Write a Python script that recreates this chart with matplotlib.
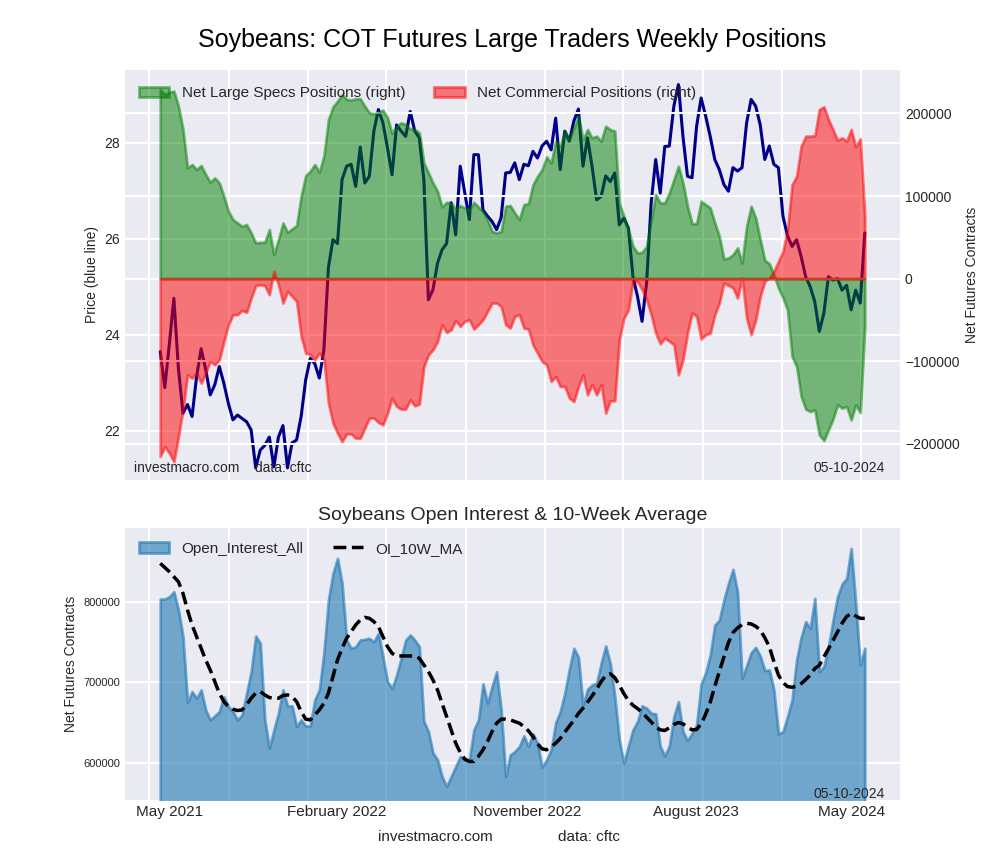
import numpy as np
import pandas as pd
import matplotlib
matplotlib.use('Agg')
import matplotlib.pyplot as plt
import matplotlib.dates as mdates
from matplotlib.ticker import FixedLocator, NullFormatter

plt.style.use('seaborn-v0_8-darkgrid')
plt.rcParams['font.family'] = ['Liberation Sans', 'DejaVu Sans']
plt.rcParams['grid.linewidth'] = 1.5

# weekly COT report dates (Tuesdays)
dates = pd.date_range('2021-05-18', periods=156, freq='7D')

price = [23.65, 22.90, 23.80, 24.76, 23.30, 22.37, 22.55, 22.30, 23.13, 23.71,
         23.28, 22.75, 22.96, 23.34, 22.99, 22.57, 22.23, 22.33, 22.26, 22.19,
         22.02, 21.23, 21.60, 21.70, 21.87, 21.25, 21.87, 22.11, 21.23, 21.75,
         21.81, 22.30, 23.06, 23.51, 23.40, 23.10, 23.68, 25.40, 25.98, 25.90,
         27.23, 27.51, 27.55, 27.09, 27.91, 27.16, 27.30, 28.24, 28.69, 28.41,
         27.89, 27.33, 28.37, 28.24, 28.13, 28.65, 28.24, 28.10, 27.23, 24.73,
         24.94, 25.49, 25.77, 25.90, 26.75, 26.08, 27.51, 26.95, 26.40, 27.75,
         27.75, 26.60, 26.47, 26.36, 26.19, 26.44, 27.37, 27.38, 27.58, 27.23,
         27.55, 27.52, 27.82, 27.68, 27.93, 28.03, 27.85, 28.51, 27.44, 28.24,
         28.03, 28.45, 28.70, 27.51, 28.10, 27.51, 26.81, 26.88, 27.31, 27.19,
         27.37, 26.29, 26.43, 26.22, 25.21, 24.80, 24.28, 25.08, 26.74, 27.65,
         26.95, 27.92, 27.93, 28.76, 29.21, 28.13, 27.30, 27.27, 28.34, 28.93,
         28.55, 28.13, 27.65, 27.44, 27.13, 26.99, 27.48, 27.41, 27.48, 28.41,
         28.90, 28.76, 28.37, 27.65, 27.93, 27.55, 27.48, 26.47, 26.06, 25.84,
         25.98, 25.63, 25.21, 25.00, 24.69, 24.07, 24.45, 25.21, 25.14, 25.17,
         24.93, 25.03, 24.52, 24.93, 24.66, 26.12]

net_specs = [229100, 223000, 225800, 227100, 208900, 180600, 134100, 138200, 132100, 137000,
             126100, 116800, 122000, 115900, 99800, 81600, 71500, 67500, 63400, 65500,
             55400, 43200, 44000, 44000, 59400, 29100, 47300, 67500, 56200, 60200,
             64200, 99800, 124800, 130100, 138200, 128900, 148300, 192700, 208100, 214900,
             223000, 217000, 216200, 217800, 217800, 208900, 200800, 199600, 201600, 204000,
             194700, 175800, 184600, 188700, 186700, 181400, 180600, 176600, 140200, 128100,
             115900, 105900, 86900, 92500, 91700, 84400, 88500, 85600, 83600, 92500,
             86900, 81600, 71500, 57400, 55400, 57400, 87700, 88500, 79600, 71500,
             89700, 90900, 113900, 124000, 132100, 147500, 140200, 166400, 160400, 178600,
             168500, 182600, 196800, 168500, 180600, 170500, 172500, 166400, 184600, 180600,
             178600, 91700, 75500, 59400, 39200, 31100, 31900, 39200, 71500, 101800,
             91700, 91700, 103800, 120000, 136200, 115900, 87700, 66700, 66700, 93700,
             89700, 85600, 67500, 51300, 23800, 25000, 29100, 37200, 19000, 63400,
             87700, 73500, 47300, 22200, 18200, 4800, -11300, -23400, -37600, -94100,
             -106300, -142600, -157900, -160800, -158800, -189100, -196000, -183000, -170100, -152700,
             -156800, -154700, -170900, -152700, -162000, -57800]

net_comm = [-215300, -203200, -211300, -221400, -191100, -158800, -116400, -120400, -114300, -126400,
            -114300, -100200, -104200, -98200, -76000, -55800, -43600, -43600, -38400, -40800,
            -23400, -8500, -7300, -8500, -19400, 8900, -7300, -29500, -15400, -21400,
            -27500, -69900, -90100, -92100, -98200, -90100, -97300, -150700, -174900, -187000,
            -197200, -187900, -187900, -193100, -193100, -181000, -168800, -168800, -174100, -177000,
            -162800, -144600, -154700, -157900, -157900, -146700, -153900, -151900, -106300, -92100,
            -86100, -76000, -55800, -65100, -61800, -50500, -57800, -51700, -49700, -61000,
            -55800, -49700, -39600, -29500, -29500, -33500, -55800, -59800, -45600, -43600,
            -59800, -61000, -80000, -90100, -100200, -104200, -124400, -118400, -130500, -130500,
            -144600, -148700, -130500, -116400, -140600, -128500, -140600, -128500, -162800, -147900,
            -147900, -73900, -47700, -37600, -3200, -3700, -13300, -25500, -43600, -65900,
            -78800, -71900, -75700, -80000, -116400, -98200, -65900, -41600, -45600, -73100,
            -67900, -65900, -43600, -29500, -5300, -8100, -11300, -23400, 800, -47700,
            -67900, -49700, -21400, -3200, 800, 8900, 21000, 33100, 59400, 113900,
            124000, 160400, 172500, 172500, 173100, 204800, 208100, 192700, 180600, 167700,
            170500, 166400, 180600, 159600, 169300, 75500]

open_interest = [803700, 803700, 806600, 812800, 790100, 756900, 674900, 688600, 680400, 690700,
                 665900, 653400, 658400, 663800, 682400, 670000, 663800, 653400, 659700, 686600,
                 713400, 757800, 748700, 653400, 618300, 641000, 661800, 690700, 670800, 670800,
                 645200, 653400, 646000, 646000, 678300, 690700, 736300, 802500, 835600, 854300,
                 823200, 752800, 742500, 744500, 752800, 753600, 754900, 750700, 761100, 732100,
                 701000, 692700, 709300, 730100, 752800, 759000, 752800, 744500, 651300, 638900,
                 612100, 603800, 583000, 570600, 583000, 595500, 607900, 603800, 603800, 641000,
                 653400, 698200, 674200, 694800, 713400, 665900, 583000, 610000, 614100, 620300,
                 633600, 620300, 636100, 624500, 594700, 603800, 616200, 650100, 663800, 686600,
                 716400, 742500, 731300, 672100, 691500, 696900, 699000, 723800, 745400, 723800,
                 682400, 628600, 599600, 621200, 641000, 651400, 670800, 668000, 661800, 660900,
                 620300, 608700, 621200, 657600, 676200, 638900, 627800, 636900, 647200, 698200,
                 712200, 734200, 771400, 777600, 802500, 823200, 840600, 812800, 705200, 720500,
                 737000, 743700, 732900, 714700, 715500, 690700, 636100, 638900, 657600, 678300,
                 728000, 756100, 775600, 767300, 804600, 713400, 719600, 744500, 776800, 806600,
                 822400, 829400, 866700, 798300, 721800, 742500]

oi_ma_10w = [848000, 843000, 837700, 831400, 825200, 810800, 790100, 771400, 756900, 742400,
             728000, 715500, 701000, 686600, 676200, 670000, 666700, 665000, 665800, 672100,
             680300, 686600, 688600, 684500, 681200, 680300, 680300, 683700, 684500, 682400,
             676200, 663800, 654300, 653400, 659600, 665800, 674100, 686600, 707200, 728000,
             742400, 754900, 763100, 771400, 777600, 780900, 779700, 775600, 769300, 756900,
             744500, 736200, 732900, 732900, 732900, 732900, 732900, 730000, 721800, 713500,
             703100, 690700, 674100, 657600, 641000, 624400, 612900, 604600, 601700, 601700,
             607900, 616200, 626500, 639000, 649300, 654300, 654300, 653400, 651400, 649300,
             645100, 639800, 632700, 623600, 617400, 616200, 619900, 624400, 630200, 638100,
             645600, 653000, 661300, 667900, 675400, 683200, 691500, 701000, 708500, 710600,
             706000, 696500, 686100, 677400, 671600, 667500, 662900, 656700, 650900, 644700,
             641000, 640200, 643500, 647600, 650100, 648500, 644300, 641000, 641400, 648500,
             660500, 675400, 694800, 713500, 731300, 749500, 761900, 767700, 771800, 773500,
             772700, 769800, 765200, 755700, 744500, 725900, 709300, 699800, 694800, 694000,
             695200, 698500, 703500, 709300, 717200, 721300, 731700, 741600, 752000, 762700,
             773500, 781800, 785900, 782600, 779700, 779700]

tick_labels = ['May 2021', 'February 2022', 'November 2022', 'August 2023', 'May 2024']
tick_dates = pd.to_datetime(['2021-06-01', '2022-02-14', '2022-12-04', '2023-08-21', '2024-04-17'])
report_date = '05-10-2024'

fig = plt.figure(figsize=(10, 8.6), dpi=100)
ax1 = fig.add_axes([0.125, 0.442, 0.775, 0.477])
ax2 = ax1.twinx()
ax3 = fig.add_axes([0.125, 0.07, 0.775, 0.316])

span = dates[-1] - dates[0]
xlim = (dates[0] - span * 0.05, dates[-1] + span * 0.05)

# top panel: price (left) and net positions (right)
ax1.plot(dates, price, color='darkblue', lw=2.2)
ax1.set_ylim(20.98, 29.52)
ax1.set_yticks([22, 24, 26, 28])
ax1.set_ylabel('Price (blue line)', fontsize=10)
ax1.tick_params(axis='y', labelsize=10)

ax2.fill_between(dates, 0, net_specs, facecolor='green', edgecolor='green',
                 alpha=0.5, lw=2, label='Net Large Specs Positions (right)')
ax2.fill_between(dates, 0, net_comm, facecolor='red', edgecolor='red',
                 alpha=0.5, lw=2, label='Net Commercial Positions (right)')
ax2.set_ylim(-243600, 253000)
ax2.set_yticks([-200000, -100000, 0, 100000, 200000])
ax2.set_ylabel('Net Futures Contracts', fontsize=10)
ax2.tick_params(axis='y', labelsize=10)
ax2.legend(loc='upper left', ncol=2, fontsize=11, frameon=False, columnspacing=1.9,
           bbox_to_anchor=(0, 0.993))

ax1.text(0.012, 0.012, 'investmacro.com    data: cftc', transform=ax1.transAxes,
         fontsize=10, va='bottom', ha='left')
ax1.text(0.98, 0.012, report_date, transform=ax1.transAxes,
         fontsize=10, va='bottom', ha='right')

# bottom panel: open interest
ax3.fill_between(dates, 0, open_interest, facecolor='#1f77b4', edgecolor='#1f77b4',
                 alpha=0.6, lw=2, label='Open_Interest_All')
ax3.plot(dates, oi_ma_10w, color='black', ls='--', lw=2.5, label='OI_10W_MA')
ax3.set_ylim(554000, 892000)
ax3.set_yticks([600000, 700000, 800000])
ax3.tick_params(axis='y', labelsize=8)
ax3.set_ylabel('Net Futures Contracts', fontsize=10)
ax3.set_title('Soybeans Open Interest & 10-Week Average', fontsize=14)
ax3.legend(loc='upper left', ncol=2, fontsize=11, frameon=False, columnspacing=1.9)
ax3.text(0.98, -0.005, report_date, transform=ax3.transAxes,
         fontsize=10, va='bottom', ha='right')

for ax in (ax1, ax2, ax3):
    ax.set_xlim(xlim)
    ax.xaxis.set_major_locator(mdates.MonthLocator(bymonth=[1, 5, 9]))
    ax.xaxis.set_major_formatter(NullFormatter())
    ax.xaxis.set_minor_locator(FixedLocator(mdates.date2num(tick_dates)))
    ax.xaxis.set_minor_formatter(NullFormatter())
    ax.grid(True, which='major')
    ax.grid(False, which='minor')
    ax.tick_params(which='both', length=0)

ax3.set_xticks(mdates.date2num(tick_dates), tick_labels, minor=True)
ax3.tick_params(axis='x', which='minor', labelsize=11, pad=4)

fig.suptitle('Soybeans: COT Futures Large Traders Weekly Positions', fontsize=18,
             x=0.5125, y=0.968, color='black')
fig.text(0.378, 0.022, 'investmacro.com', fontsize=11)
fig.text(0.558, 0.022, 'data: cftc', fontsize=11)

fig.savefig('out.png', dpi=100)
